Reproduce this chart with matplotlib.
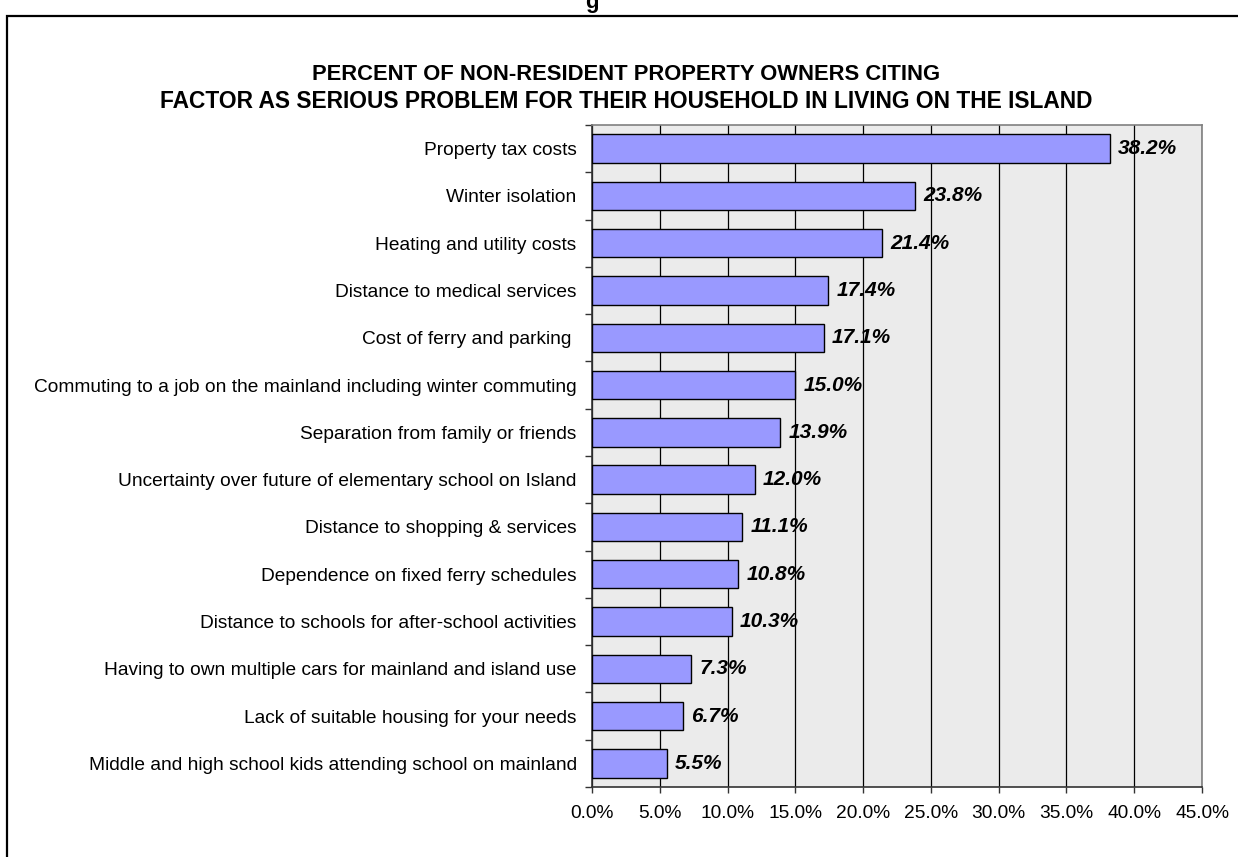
import matplotlib
matplotlib.use("Agg")
import matplotlib.pyplot as plt
from matplotlib.patches import Rectangle
import numpy as np

categories = [
    "Property tax costs",
    "Winter isolation",
    "Heating and utility costs",
    "Distance to medical services",
    "Cost of ferry and parking ",
    "Commuting to a job on the mainland including winter commuting",
    "Separation from family or friends",
    "Uncertainty over future of elementary school on Island",
    "Distance to shopping & services",
    "Dependence on fixed ferry schedules",
    "Distance to schools for after-school activities",
    "Having to own multiple cars for mainland and island use",
    "Lack of suitable housing for your needs",
    "Middle and high school kids attending school on mainland",
]
values = [38.2, 23.8, 21.4, 17.4, 17.1, 15.0, 13.9, 12.0, 11.1, 10.8, 10.3, 7.3, 6.7, 5.5]
x_ticks = [0, 5, 10, 15, 20, 25, 30, 35, 40, 45]
title_lines = [
    "PERCENT OF NON-RESIDENT PROPERTY OWNERS CITING",
    "FACTOR AS SERIOUS PROBLEM FOR THEIR HOUSEHOLD IN LIVING ON THE ISLAND",
]

plt.rcParams['font.family'] = ['Liberation Sans', 'DejaVu Sans']

W, H = 1238, 857
fig = plt.figure(figsize=(W / 100, H / 100), dpi=100)
fig.patch.set_facecolor('white')

# outer frame (only left and top visible)
fig.patches.append(Rectangle((7 / W, -0.1), 1.2, 1.1 - 16 / H, transform=fig.transFigure,
                             fill=False, edgecolor='black', linewidth=1.6, zorder=0))
# clipped glyph from a heading above the frame
fig.text(592 / W, 1.0 - 8 / H, "g", ha='center', va='baseline', fontsize=16, fontweight='bold')

left, right = 592 / W, 1202 / W
bottom, top = 1 - 787 / H, 1 - 125 / H
ax = fig.add_axes([left, bottom, right - left, top - bottom])
ax.set_facecolor('#ebebeb')

n = len(categories)
y = np.arange(n)
ax.barh(y, values, height=0.6, color='#9999ff', edgecolor='black', linewidth=1.0, zorder=3)
ax.set_ylim(n - 0.5, -0.5)
ax.set_xlim(0, 45)

for yi, v in zip(y, values):
    ax.annotate(f"{v:.1f}%", xy=(v, yi), xytext=(6, 0), textcoords='offset points',
                ha='left', va='center', fontsize=15, fontweight='bold', fontstyle='italic', zorder=4)

ax.set_yticks(y)
ax.set_yticklabels(categories, fontsize=13.8)
ax.set_yticks(np.arange(n + 1) - 0.5, minor=True)
ax.tick_params(axis='y', which='major', length=0, pad=11)
ax.tick_params(axis='y', which='minor', length=5, width=1, direction='out', color='#333333')

ax.set_xticks(x_ticks)
ax.set_xticklabels([f"{t:.1f}%" for t in x_ticks], fontsize=13.8)
ax.tick_params(axis='x', length=4, width=1, direction='out', pad=9, color='#333333')

ax.grid(axis='x', color='black', linewidth=0.9, zorder=1)
ax.set_axisbelow(True)
for s in ['top', 'right']:
    ax.spines[s].set_color('#808080')
    ax.spines[s].set_linewidth(1.2)
for s in ['left', 'bottom']:
    ax.spines[s].set_color('#333333')
    ax.spines[s].set_linewidth(1.2)

fig.text(626 / W, 1 - 74 / H, title_lines[0], ha='center', va='center', fontsize=15.8, fontweight='bold')
fig.text(626 / W, 1 - 102 / H, title_lines[1], ha='center', va='center', fontsize=16.4, fontweight='bold')

fig.savefig("out.png", dpi=100)
